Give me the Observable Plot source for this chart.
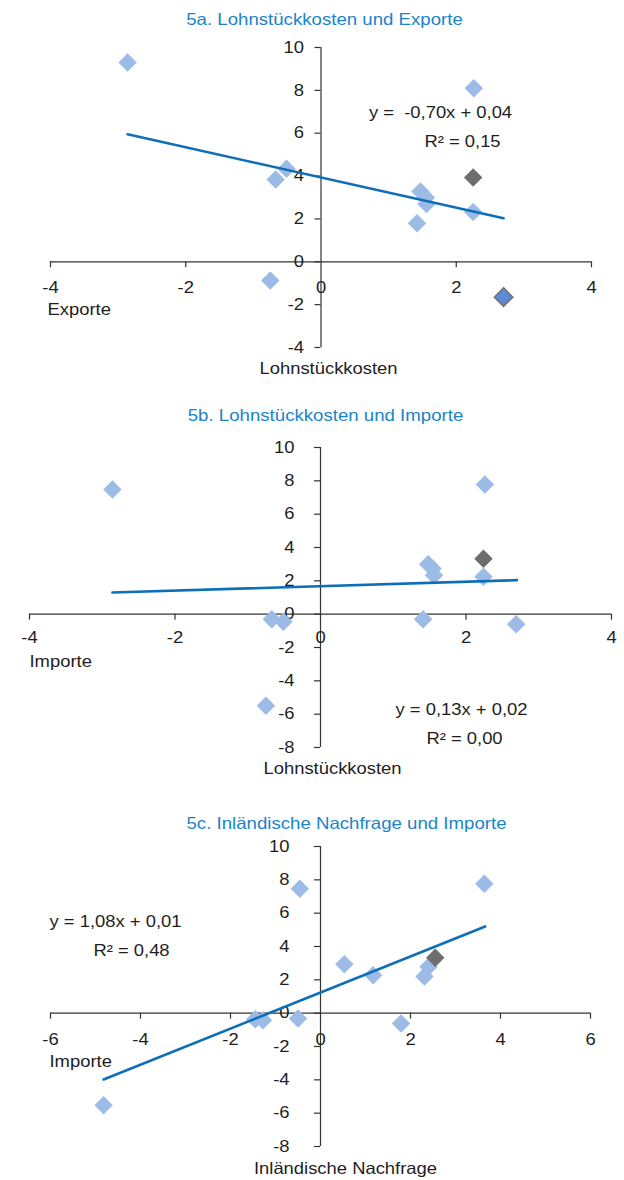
<!DOCTYPE html>
<html><head><meta charset="utf-8">
<script src="https://cdn.jsdelivr.net/npm/d3@7"></script>
<script src="https://cdn.jsdelivr.net/npm/@observablehq/plot@0.6"></script>
<style>
body{margin:0;background:#fff}
#charts svg{display:block}
</style>
</head><body><div id="charts"></div>
<script>
// ---------- Panel 5a ----------
const titleA = "5a. Lohnstückkosten und Exporte";
const aX = [-2.86, 2.26, -0.51, -0.67, 1.47, 1.55, 1.56, 1.42, 2.25, 2.25, -0.75, 2.70];
const aY = [9.30, 8.10, 4.34, 3.84, 3.28, 3.00, 2.70, 1.80, 2.32, 3.93, -0.87, -1.65];
const aGroup = ["l","l","l","l","l","l","l","l","l","g","l","d"];
const aTrendX = [-2.86, 2.70];
const aTrendY = [5.95, 2.03];
const aXTicks = [-4, -2, 0, 2, 4];
const aYTicks = [-4, -2, 0, 2, 4, 6, 8, 10];
const aEq = ["y = \u00a0-0,70x + 0,04", "R² = 0,15"];
const aXLabel = "Lohnstückkosten", aYLabel = "Exporte";

// ---------- Panel 5b ----------
const titleB = "5b. Lohnstückkosten und Importe";
const bX = [-2.86, 2.26, 2.24, 1.48, 1.54, 1.56, 2.24, -0.67, -0.51, 1.41, 2.69, -0.75];
const bY = [7.48, 7.78, 3.32, 3.00, 2.74, 2.34, 2.24, -0.30, -0.46, -0.30, -0.60, -5.50];
const bGroup = ["l","l","g","l","l","l","l","l","l","l","l","l"];
const bTrendX = [-2.86, 2.70];
const bTrendY = [1.30, 2.04];
const bXTicks = [-4, -2, 0, 2, 4];
const bYTicks = [-8, -6, -4, -2, 0, 2, 4, 6, 8, 10];
const bEq = ["y = 0,13x + 0,02", "R² = 0,00"];
const bXLabel = "Lohnstückkosten", bYLabel = "Importe";

// ---------- Panel 5c ----------
const titleC = "5c. Inländische Nachfrage und Importe";
const cX = [-4.82, -0.46, 3.64, 0.53, 1.17, 2.31, 2.40, 2.55, -1.45, -1.28, -0.50, 1.79];
const cY = [-5.52, 7.46, 7.76, 2.94, 2.28, 2.20, 2.78, 3.32, -0.36, -0.42, -0.32, -0.62];
const cGroup = ["l","l","l","l","l","l","l","g","l","l","l","l"];
const cTrendX = [-4.82, 3.66];
const cTrendY = [-3.98, 5.20];
const cXTicks = [-6, -4, -2, 0, 2, 4, 6];
const cYTicks = [-8, -6, -4, -2, 0, 2, 4, 6, 8, 10];
const cEq = ["y = 1,08x + 0,01", "R² = 0,48"];
const cXLabel = "Inländische Nachfrage", cYLabel = "Importe";

const FONT = "'Liberation Sans', Arial, Helvetica, sans-serif";
const FS = 16.3;
const STRETCH = 1.13;
const INK = "#1e1e1e";
const AXIS = "#333333";
const fills = {l: "#9dbbe7", g: "#6e6e6e", d: "#5b8bd8"};
const strokes = {l: "none", g: "none", d: "#727272"};

function panel(c) {
  const pts = c.x.map((x, i) => ({x, y: c.y[i], g: c.g[i]}));
  const trend = c.tx.map((x, i) => ({x, y: c.ty[i]}));
  const L = c.ml, T = c.mt;
  const lab = (text, px, py, anchor = "middle", extra = {}) =>
    Plot.text([text], {text: d => d, frameAnchor: "top-left", dx: px - L, dy: py - T,
      textAnchor: anchor, lineAnchor: "middle", fill: INK, fontSize: FS, ...extra});
  const svg = Plot.plot({
    width: 624, height: c.height,
    marginLeft: c.ml, marginRight: c.mr, marginTop: c.mt, marginBottom: c.mb,
    x: {domain: c.xd, axis: null},
    y: {domain: c.yd, axis: null},
    style: {fontFamily: FONT, background: "#fff", overflow: "visible"},
    marks: [
      Plot.ruleY([0], {stroke: AXIS, strokeWidth: 1.2}),
      Plot.ruleX([0], {stroke: AXIS, strokeWidth: 1.2}),
      Plot.ruleX(c.xt.filter(d => d !== 0), {x: d => d, y1: 0, y2: 0, insetBottom: -6, stroke: AXIS, strokeWidth: 1.2}),
      Plot.ruleY(c.yt, {y: d => d, x1: 0, x2: 0, insetLeft: -6, stroke: AXIS, strokeWidth: 1.2}),
      Plot.text(c.xt, {x: d => d, y: 0, dy: c.xdy, text: d => String(d), fill: INK, fontSize: FS, lineAnchor: "middle"}),
      Plot.text(c.yt, {x: 0, y: d => d, dx: c.ydx, text: d => String(d), textAnchor: "end", fill: INK, fontSize: FS, lineAnchor: "middle"}),
      Plot.dot(pts.filter(p => p.g === "l"), {x: "x", y: "y", symbol: "diamond2", r: 8.3, fill: fills.l, stroke: "none"}),
      Plot.dot(pts.filter(p => p.g !== "l"), {x: "x", y: "y", symbol: "diamond2", r: 8.3,
        fill: p => fills[p.g], stroke: p => strokes[p.g], strokeWidth: 1.6}),
      Plot.line(trend, {x: "x", y: "y", stroke: "#0d6fb8", strokeWidth: 2.6}),
      lab(c.title, c.titlePos[0], c.titlePos[1], "middle", {fill: "#1b84c9", fontSize: 16.5}),
      lab(c.eq[0], c.eq1Pos[0], c.eq1Pos[1]),
      lab(c.eq[1], c.eq2Pos[0], c.eq2Pos[1]),
      lab(c.yLabel, c.yLabPos[0], c.yLabPos[1], "start"),
      lab(c.xLabel, c.xLabPos[0], c.xLabPos[1])
    ]
  });
  // horizontal stretch of glyphs around each text's anchor point
  svg.querySelectorAll("text").forEach(t => {
    let tr = t.getAttribute("transform") || "";
    const x = t.getAttribute("x");
    if (x != null && !isNaN(+x)) { tr += ` translate(${+x},0)`; t.removeAttribute("x"); }
    t.setAttribute("transform", `${tr} scale(${STRETCH},1)`);
  });
  return svg;
}

const root = document.getElementById("charts");
root.appendChild(panel({
  title: titleA, x: aX, y: aY, g: aGroup, tx: aTrendX, ty: aTrendY, xt: aXTicks, yt: aYTicks,
  xd: [-4, 4], yd: [-4, 10], height: 392, ml: 50, mr: 33, mt: 47, mb: 45,
  xdy: 26, ydx: -17, eq: aEq, xLabel: aXLabel, yLabel: aYLabel,
  titlePos: [324, 19], eq1Pos: [440, 112], eq2Pos: [462, 141], yLabPos: [47, 309], xLabPos: [328, 368]
}));
root.appendChild(panel({
  title: titleB, x: bX, y: bY, g: bGroup, tx: bTrendX, ty: bTrendY, xt: bXTicks, yt: bYTicks,
  xd: [-4, 4], yd: [-8, 10], height: 398, ml: 29, mr: 13, mt: 55, mb: 43,
  xdy: 24, ydx: -26, eq: bEq, xLabel: bXLabel, yLabel: bYLabel,
  titlePos: [325, 23], eq1Pos: [461, 317], eq2Pos: [464, 346], yLabPos: [29, 269], xLabPos: [332, 376]
}));
root.appendChild(panel({
  title: titleC, x: cX, y: cY, g: cGroup, tx: cTrendX, ty: cTrendY, xt: cXTicks, yt: cYTicks,
  xd: [-6, 6], yd: [-8, 10], height: 390, ml: 50, mr: 34, mt: 56, mb: 34,
  xdy: 27, ydx: -31, eq: cEq, xLabel: cXLabel, yLabel: cYLabel,
  titlePos: [346, 33], eq1Pos: [115, 131], eq2Pos: [131, 160], yLabPos: [49, 271], xLabPos: [345, 378]
}));
</script>
</body></html>
